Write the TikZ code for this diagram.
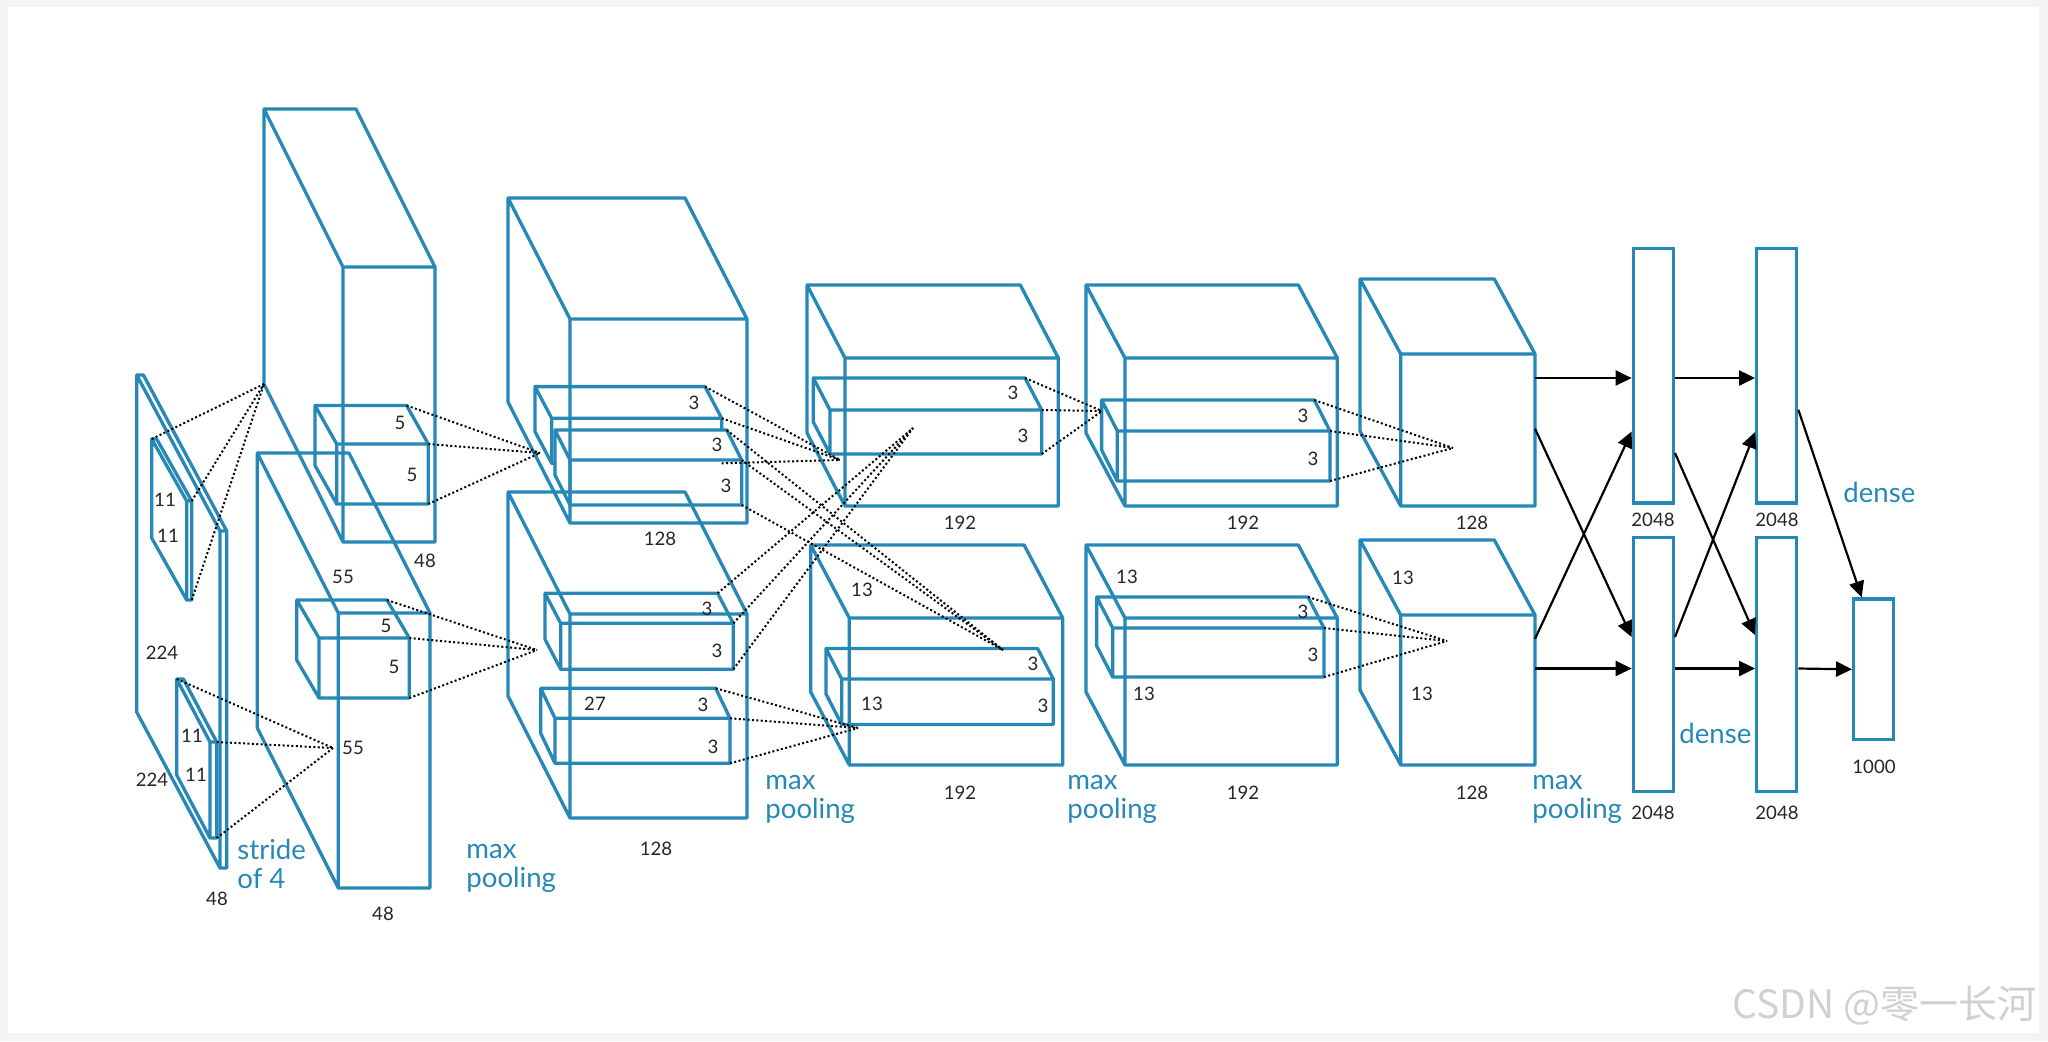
\documentclass[tikz,border=0pt]{standalone}
\usepackage{fontspec}
\setmainfont{Lato}
\newfontfamily\cjkfont{Noto Sans CJK SC}
\usetikzlibrary{arrows.meta}

\definecolor{netblue}{RGB}{38,136,183}
\definecolor{markgray}{RGB}{208,208,208}
\definecolor{pagegray}{RGB}{244,244,244}

\tikzset{
  layer/.style={draw=netblue, line width=1.65pt, line join=round, line cap=round},
  kernel/.style={layer, fill=white},
  proj/.style={black, line width=1pt, dash pattern=on 1pt off 1.2pt},
  fcbox/.style={draw=netblue, line width=1.65pt, rectangle, inner sep=0pt,
    minimum width=20pt, minimum height=127.3pt},
  flow/.style={black, line width=1.1pt, -{Triangle[length=8pt,width=7.5pt]}},
  dim/.style={font=\fontsize{9.3}{10}\selectfont, text=black!85, inner sep=0pt},
  tag/.style={font=\fontsize{13.8}{14}\selectfont, text=netblue, inner sep=0pt, anchor=base west},
}

% box in oblique view: name, front left x, front top y, front right x, front bottom y, depth dx, depth dy, style
\newcommand{\cuboid}[8]{%
  \coordinate (#1-ftl) at (#2,#3);
  \coordinate (#1-ftr) at (#4,#3);
  \coordinate (#1-fbr) at (#4,#5);
  \coordinate (#1-fbl) at (#2,#5);
  \coordinate (#1-btl) at ([shift={(#6,#7)}]#1-ftl);
  \coordinate (#1-btr) at ([shift={(#6,#7)}]#1-ftr);
  \coordinate (#1-bbl) at ([shift={(#6,#7)}]#1-fbl);
  \draw[#8] (#1-fbl) -- (#1-bbl) -- (#1-btl) -- (#1-btr) -- (#1-ftr) -- (#1-fbr) -- cycle
    (#1-ftl) -- (#1-ftr) (#1-ftl) -- (#1-fbl) (#1-ftl) -- (#1-btl);
}

\begin{document}
\begin{tikzpicture}[x=0.5pt, y=-0.5pt]
        % Page
        \fill[pagegray] (0,0) rectangle (2048,1041);
        \fill[white] (8,7) rectangle (2039,1033);
        \useasboundingbox (0,0) rectangle (2048,1041);

        % Kernels (drawn first, the layers go over them)
        \cuboid{k0t}{186.7}{501}{191.7}{600}{-35}{-62}{kernel}
        \cuboid{k0b}{210}{742}{216.7}{838}{-33.3}{-63}{kernel}
        \cuboid{k1t}{336.7}{444}{428.3}{504}{-21.7}{-38.5}{kernel}
        \cuboid{k1b}{319}{638}{409.3}{698}{-22.3}{-38}{kernel}
        \cuboid{k2a}{551.7}{418.3}{721.7}{463.3}{-16.7}{-31.7}{kernel}
        \cuboid{k2b}{570}{460}{741.7}{505}{-15}{-30}{kernel}
        \cuboid{k2c}{560.7}{623.3}{733.3}{669.3}{-15.7}{-30}{kernel}
        \cuboid{k2d}{555}{718.3}{730}{763.3}{-14.3}{-30}{kernel}
        \cuboid{k3t}{830}{410}{1041.7}{454}{-16.7}{-32}{kernel}
        \cuboid{k3b}{841.7}{679}{1053.3}{724.5}{-15.7}{-30.5}{kernel}
        \cuboid{k4t}{1117.3}{431}{1330}{481}{-15.7}{-31}{kernel}
        \cuboid{k4b}{1112.7}{628}{1324}{677}{-16}{-31}{kernel}

        % Layers
        \cuboid{img}{220}{531}{226.7}{868}{-83.3}{-156}{layer}
        \cuboid{c1t}{343}{267}{435}{542}{-79}{-158}{layer}
        \cuboid{c1b}{338.3}{613}{430}{888}{-81}{-160}{layer}
        \cuboid{c2t}{570}{319}{747}{523}{-62}{-121}{layer}
        \cuboid{c2b}{570}{614}{747}{818}{-62}{-122}{layer}
        \cuboid{c3t}{845}{358}{1058.3}{506}{-38}{-73}{layer}
        \cuboid{c3b}{849.3}{618}{1062.7}{765}{-38.6}{-73}{layer}
        \cuboid{c4t}{1125}{358}{1337.3}{506}{-39}{-73}{layer}
        \cuboid{c4b}{1125}{618}{1337.3}{765}{-39}{-73}{layer}
        \cuboid{c5t}{1400.7}{354}{1535}{506}{-40.7}{-75}{layer}
        \cuboid{c5b}{1400.7}{615}{1535}{765}{-40.7}{-75}{layer}

        % Points where the projections meet
        \coordinate (p1b) at (333,748);
        \coordinate (p2t) at (540,453);
        \coordinate (p2b) at (537,650);
        \coordinate (p3t) at (840,460);
        \coordinate (p3b) at (1003,650);
        \coordinate (p3x) at (913,428);
        \coordinate (p3y) at (858,728);
        \coordinate (p4t) at (1102,411);
        \coordinate (p5t) at (1453,448);
        \coordinate (p5b) at (1447,641);

        % Projections
        \foreach \c in {btl,ftr,fbr}{
            \draw[proj] (k0t-\c) -- (c1t-bbl);
            \draw[proj] (k0b-\c) -- (p1b);
          }
        \foreach \k/\p in {k1t/p2t, k1b/p2b, k2a/p3t, k2b/p3b, k2c/p3x, k2d/p3y, k3t/p4t, k4t/p5t, k4b/p5b}{
            \foreach \c in {btr,ftr,fbr}{
                \draw[proj] (\k-\c) -- (\p);
              }
          }

        % Dense layers
        \node[fcbox] (fc6t) at (1653.3,375.8) {};
        \node[fcbox] (fc6b) at (1653.3,664.5) {};
        \node[fcbox] (fc7t) at (1776.7,375.8) {};
        \node[fcbox] (fc7b) at (1776.7,664.5) {};
        \node[fcbox, minimum height=70.3pt] (out) at (1873.7,669.3) {};

        \draw[flow] ([yshift=-12pt]c5t-ftr) -- ([yshift=-1.1pt]fc6t.west);
        \draw[flow] ([yshift=-37.35pt]c5t-ftr) -- ([yshift=13.75pt]fc6b.west);
        \draw[flow] ([yshift=-11.9pt]c5b-ftr) -- ([yshift=-27.85pt]fc6t.west);
        \draw[flow] ([yshift=-26.75pt]c5b-ftr) -- ([yshift=-2pt]fc6b.west);
        \draw[flow] ([yshift=-1.1pt]fc6t.east) -- ([yshift=-1.1pt]fc7t.west);
        \draw[flow] ([yshift=-38.6pt]fc6t.east) -- ([yshift=14.75pt]fc7b.west);
        \draw[flow] ([yshift=13.75pt]fc6b.east) -- ([yshift=-28.1pt]fc7t.west);
        \draw[flow] ([yshift=-2pt]fc6b.east) -- ([yshift=-2pt]fc7b.west);
        \draw[flow] ([yshift=-17pt]fc7t.east) -- ([xshift=-6pt]out.north);
        \draw[flow] ([yshift=-2pt]fc7b.east) -- (out.west);

        % Sizes
        \foreach \x/\y/\t [count=\i] in {165/500/11, 168/536/11, 162/653/224, 152/780/224,
            192/736/11, 196/775/11, 217/899/48,
            400/423/5, 412/475/5, 343/577/55, 425/561/48, 386/626/5, 394/667/5, 353/748/55, 383/914/48,
            694/403/3, 717/445/3, 726/486/3, 660/539/128, 707/609/3, 717/651/3, 595/704/27,
            703/705/3, 713/747/3, 656/849/128,
            1013/393/3, 1023/436/3, 960/523/192, 862/590/13, 1033/664/3, 872/704/13, 1043/706/3, 960/793/192,
            1303/416/3, 1313/459/3, 1243/523/192, 1127/577/13, 1303/612/3, 1313/655/3, 1144/694/13, 1243/793/192,
            1472/523/128, 1403/578/13, 1422/694/13, 1472/793/128,
            1653/520/2048, 1777/520/2048, 1653/813/2048, 1777/813/2048, 1874/767/1000}{
            \node[dim] (dim\i) at (\x,\y) {\t};
          }

        % Operation names
        \foreach \x/\y/\t [count=\i] in {237/859/stride, 237/888/of 4, 466/858/max, 466/887/pooling,
            765/789/max, 765/818/pooling, 1067/789/max, 1067/818/pooling,
            1532/789/max, 1532/818/pooling, 1843/502/dense, 1679/743/dense}{
            \node[tag] (tag\i) at (\x,\y) {\t};
          }

        % Watermark
        \node[font=\cjkfont\fontsize{19.5}{20}\selectfont, text=markgray, anchor=east, inner sep=0pt]
          (mark) at (2037,1006) {CSDN @零一长河};
      \end{tikzpicture}
\end{document}
